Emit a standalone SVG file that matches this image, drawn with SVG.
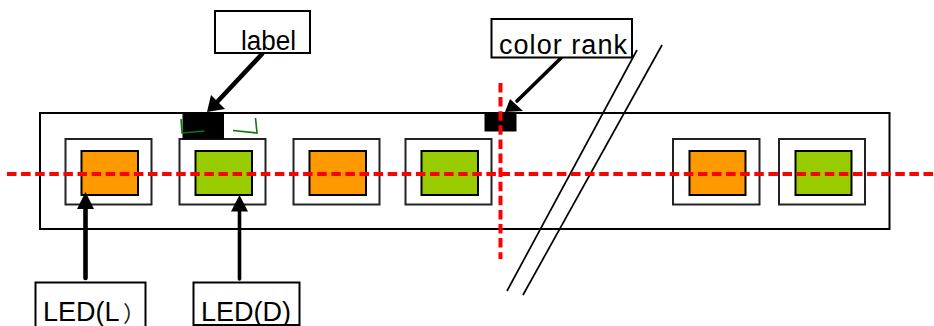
<svg xmlns="http://www.w3.org/2000/svg" width="934" height="326" viewBox="0 0 934 326">
<style>
.box{fill:#fff;stroke:#000;stroke-width:2}
.in{fill:#fff;stroke:#222;stroke-width:2}
.o{fill:#f90;stroke:#000;stroke-width:2}
.g{fill:#9c0;stroke:#000;stroke-width:2}
.t{font-family:"Liberation Sans",Arial,sans-serif;font-size:27px;fill:#000}
.p{font-family:"Noto Sans CJK SC",sans-serif;font-size:22px;fill:#222}
.cut{stroke:#000;stroke-width:1.7;fill:none}
.red{stroke:#f00;stroke-width:4;stroke-dasharray:9.500 4.600;fill:none}
.arr{stroke:#000;stroke-width:4.600;fill:none;stroke-linecap:round}
.thin{stroke-width:3.600}
.tick{stroke:#0a7a0a;stroke-width:1.600;fill:none}
</style>
<rect width="934" height="326" fill="#fff"/>
<g id="strip"><rect class="box" x="40" y="113" width="849.500" height="116"/></g>
<g id="led1"><rect class="in" x="65.500" y="139" width="86" height="65.500"/><rect class="o" x="81.500" y="151" width="56.500" height="44"/></g>
<g id="led2"><rect class="in" x="179.500" y="139" width="86" height="65.500"/><rect class="g" x="195.500" y="151" width="56.500" height="44"/></g>
<g id="led3"><rect class="in" x="293.500" y="139" width="86" height="65.500"/><rect class="o" x="309.500" y="151" width="56.500" height="44"/></g>
<g id="led4"><rect class="in" x="405.500" y="139" width="86" height="65.500"/><rect class="g" x="421.500" y="151" width="56.500" height="44"/></g>
<g id="led5"><rect class="in" x="673" y="139" width="86.500" height="65.500"/><rect class="o" x="689.500" y="151" width="56" height="44"/></g>
<g id="led6"><rect class="in" x="779" y="139" width="86" height="65.500"/><rect class="g" x="795.500" y="151" width="56" height="44"/></g>
<g id="label-mark"><rect x="182.500" y="113" width="41.500" height="26.500" fill="#000"/>
<path class="tick" d="M181 119 L182 133 L204.500 131"/><path class="tick" d="M233 130.500 L257 133 L255.500 118"/></g>
<g id="rank-mark"><rect x="484.500" y="113" width="32" height="18.500" fill="#000"/></g>
<g id="connectors">
<path class="cut" d="M637 50 L507 291"/><path class="cut" d="M662 45 L523 295"/>
<path class="red" d="M7 174 H934"/><path class="red" d="M500.500 83 V259"/>
<path class="arr" d="M262 54 L218 101"/><path d="M207 112 L211 95 L225 109 Z" fill="#000"/>
<path class="arr thin" d="M561 58 L517 101"/><path d="M505 112 L510 99 L523 111 Z" fill="#000"/>
<path class="arr" d="M85.500 278 V205"/><path d="M85.500 192 L77 209 L94 209 Z" fill="#000"/>
<path class="arr thin" d="M239.500 279 V208"/><path d="M239.500 195 L231 211.500 L248 211.500 Z" fill="#000"/>
</g>
<g id="label"><rect class="box" x="215" y="11" width="95" height="42"/><text class="t" x="241" y="50" textLength="55" lengthAdjust="spacingAndGlyphs">label</text></g>
<g id="color-rank"><rect class="box" x="491.500" y="19" width="140.500" height="38.500"/><text class="t" x="499" y="54" textLength="128" lengthAdjust="spacing">color rank</text></g>
<g id="led-l"><rect class="box" x="35.500" y="282.500" width="110" height="50"/><text class="t" x="43" y="321">LED(L</text><text class="p" x="123" y="321">）</text></g>
<g id="led-d"><rect class="box" x="193.500" y="282.500" width="106" height="42.500"/><text class="t" x="201" y="321">LED(D)</text></g>
</svg>
